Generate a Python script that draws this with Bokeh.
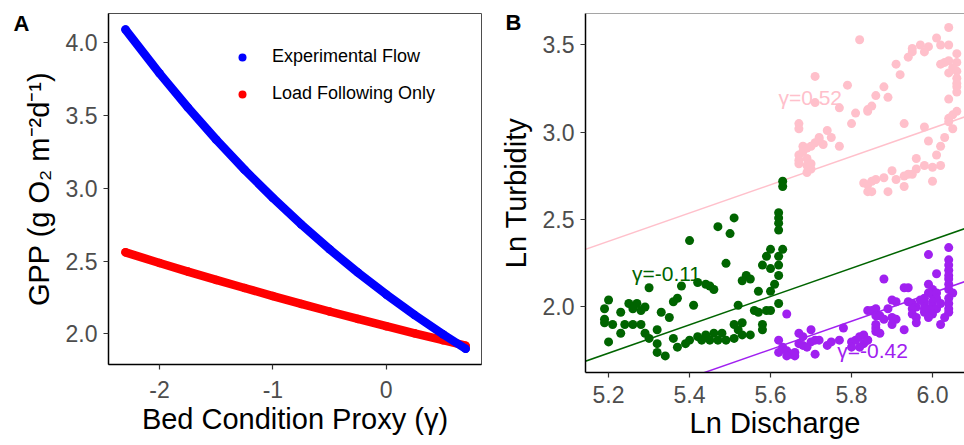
from bokeh.plotting import figure
from bokeh.layouts import row
from bokeh.models import (Range1d, FixedTicker, Legend, LegendItem, Label, Span)
from bokeh.embed import file_html
from bokeh.resources import INLINE

# ---------------- Panel A data ----------------
gamma_vals = [-2.3, -2.0, -1.75, -1.5, -1.25, -1.0, -0.75, -0.5, -0.25, 0.0, 0.25, 0.5, 0.7]
gpp_experimental = [4.090, 3.789, 3.555, 3.334, 3.127, 2.934, 2.752, 2.581, 2.421, 2.271, 2.130, 1.998, 1.898]
gpp_load_following = [2.560, 2.487, 2.428, 2.371, 2.315, 2.260, 2.206, 2.154, 2.103, 2.053, 2.004, 1.957, 1.919]
series_names = ["Experimental Flow", "Load Following Only"]
a_xticks = [-2, -1, 0]
a_xtick_labels = ["-2", "-1", "0"]
a_yticks = [2.0, 2.5, 3.0, 3.5, 4.0]
a_ytick_labels = ["2.0", "2.5", "3.0", "3.5", "4.0"]

# ---------------- Panel B data ----------------
green_x = [5.40, 5.30, 5.38, 5.42, 5.20, 5.19, 5.23, 5.25, 5.27, 5.26, 5.28, 5.29, 5.19, 5.19, 5.21, 5.24,
           5.26, 5.28, 5.23, 5.29, 5.30, 5.32, 5.20, 5.33, 5.35, 5.36, 5.37, 5.41, 5.32, 5.32, 5.34, 5.36,
           5.37, 5.39, 5.40, 5.42, 5.63, 5.63, 5.62, 5.62, 5.62, 5.62, 5.47, 5.51, 5.50, 5.60, 5.63, 5.59,
           5.62, 5.58, 5.60, 5.62, 5.49, 5.62, 5.44, 5.45, 5.46, 5.54, 5.55, 5.53, 5.61, 5.57, 5.60, 5.52,
           5.62, 5.56, 5.57, 5.59, 5.60, 5.53, 5.51, 5.58, 5.58, 5.44, 5.46, 5.45, 5.47, 5.48, 5.49, 5.51,
           5.52, 5.53, 5.55, 5.43]
green_y = [2.38, 2.11, 2.12, 2.14, 2.04, 1.99, 1.97, 2.02, 2.02, 1.99, 1.98, 2.00, 1.93, 1.91, 1.90, 1.90,
           1.90, 1.90, 1.85, 1.85, 1.82, 1.87, 1.80, 1.97, 1.94, 2.03, 2.05, 2.01, 1.79, 1.74, 1.72, 1.82,
           1.77, 1.79, 1.81, 1.83, 2.72, 2.69, 2.54, 2.51, 2.48, 2.44, 2.46, 2.51, 2.42, 2.33, 2.33, 2.29,
           2.29, 2.24, 2.22, 2.24, 2.25, 2.18, 2.13, 2.12, 2.10, 2.18, 2.16, 2.15, 2.13, 2.09, 2.09, 2.01,
           2.02, 1.98, 1.97, 1.98, 1.98, 1.91, 1.90, 1.90, 1.87, 1.84, 1.85, 1.81, 1.81, 1.85, 1.81, 1.82,
           1.87, 1.84, 1.84, 1.81]

purple_x = [5.64, 5.84, 5.70, 5.78, 5.67, 5.68, 5.62, 5.63, 5.62, 5.64, 5.65, 5.66, 5.64, 5.66, 5.67, 5.68,
            5.70, 5.71, 5.69, 5.71, 5.72, 5.74, 5.75, 5.77, 5.80, 5.81, 5.82, 5.83, 5.82, 5.80, 5.84,
            5.99, 6.04, 5.88, 5.93, 5.94, 6.01,
            6.04, 6.04, 6.04, 6.04, 6.04, 6.04, 6.04, 6.05, 6.04, 6.04, 6.04, 6.04, 6.03, 6.02,
            5.99, 6.00, 6.00, 6.01, 6.01, 6.00, 6.00, 6.01, 6.02,
            5.99, 5.98, 5.98, 5.99, 6.00, 5.99,
            5.90, 5.91, 5.94, 5.95, 5.96, 5.97,
            5.95, 5.95, 5.96, 5.98, 5.98, 5.96,
            5.85, 5.86, 5.86, 5.87, 5.89, 5.88, 5.90, 5.91, 5.86, 5.86, 5.86, 5.90, 5.93, 5.87, 5.83, 5.84]
purple_y = [1.96, 1.98, 1.87, 1.88, 1.85, 1.83, 1.81, 1.77, 1.74, 1.75, 1.73, 1.74, 1.72, 1.72, 1.79, 1.78,
            1.80, 1.81, 1.77, 1.73, 1.81, 1.78, 1.80, 1.81, 1.80, 1.81, 1.83, 1.79, 1.77, 1.77, 1.81,
            2.30, 2.34, 2.16, 2.11, 2.11, 2.19,
            2.27, 2.24, 2.21, 2.18, 2.16, 2.13, 2.10, 2.08, 2.05, 2.02, 1.99, 1.97, 1.94, 1.90,
            2.13, 2.10, 2.07, 2.08, 2.05, 2.03, 2.00, 1.99, 2.02,
            2.08, 2.05, 2.02, 1.99, 1.96, 1.94,
            2.04, 2.03, 2.03, 2.02, 2.00, 2.04,
            1.99, 1.96, 1.94, 1.97, 1.99, 1.91,
            1.98, 1.99, 1.95, 1.95, 1.99, 1.93, 1.94, 1.93, 1.90, 1.88, 1.86, 1.90, 1.87, 1.85, 1.84, 1.81]

pink_x = [5.82, 5.71, 5.79, 5.71, 5.77, 5.80, 5.81, 5.84, 5.67, 5.67, 5.74, 5.75, 5.77, 5.72, 5.72, 5.71,
          5.73, 5.68, 5.69, 5.70, 5.68, 5.67, 5.67, 5.69, 5.67, 5.69, 5.70, 5.70, 5.69, 5.83, 5.84, 5.84,
          6.04, 6.01, 6.02, 6.04, 5.99, 5.98, 5.97, 5.95, 5.95, 5.94, 5.91, 5.92,
          6.02, 6.03, 6.04, 6.06, 6.06, 6.05, 6.06, 6.04, 6.06, 6.06, 6.06, 6.06, 6.04,
          5.88, 5.86, 5.89, 5.85, 5.84,
          5.93, 6.06, 6.05, 6.04, 6.04, 6.05, 5.98, 5.99, 6.03, 6.02, 6.01, 6.02, 5.96, 5.98, 5.96, 5.94,
          5.95, 6.00, 6.00, 5.90, 5.91, 5.93, 5.88, 5.86, 5.85, 5.85, 5.89, 5.93]
pink_y = [3.53, 3.32, 3.27, 3.17, 3.14, 3.05, 3.11, 3.13, 3.05, 3.02, 3.01, 2.97, 2.92, 2.97, 2.96, 2.94,
          2.93, 2.92, 2.91, 2.92, 2.89, 2.87, 2.84, 2.85, 2.82, 2.81, 2.82, 2.79, 2.77, 2.71, 2.70, 2.66,
          3.60, 3.54, 3.50, 3.50, 3.49, 3.46, 3.50, 3.48, 3.46, 3.43, 3.39, 3.33,
          3.39, 3.40, 3.41, 3.45, 3.40, 3.37, 3.35, 3.34, 3.31, 3.28, 3.26, 3.23, 3.19,
          3.26, 3.21, 3.20, 3.15, 3.12,
          3.05, 3.12, 3.10, 3.08, 3.06, 3.02, 3.03, 2.95, 2.97, 2.92, 2.87, 2.81, 2.85, 2.81, 2.79, 2.76,
          2.76, 2.80, 2.72, 2.78, 2.73, 2.69, 2.74, 2.73, 2.72, 2.66, 2.66, 2.75]

fit_slope = 0.81
fit_intercepts = [-1.836, -2.476, -2.779]        # pink, green, purple
group_labels = ["\u03b3=0.52", "\u03b3=-0.11", "\u03b3=-0.42"]
label_x = [5.698, 5.343, 5.852]
label_y = [3.20, 2.19, 1.75]
b_xticks = [5.2, 5.4, 5.6, 5.8, 6.0]
b_xtick_labels = ["5.2", "5.4", "5.6", "5.8", "6.0"]
b_yticks = [2.0, 2.5, 3.0, 3.5]
b_ytick_labels = ["2.0", "2.5", "3.0", "3.5"]
panel_tags = ["A", "B"]

FONT = "Liberation Sans"
TICK_COLOR = "#4D4D4D"


def style_axes(p, xticks, xlabels, yticks, ylabels, x_std, x_lab_std):
    p.xaxis.ticker = FixedTicker(ticks=xticks)
    p.yaxis.ticker = FixedTicker(ticks=yticks)
    p.xaxis.major_label_overrides = {t: l for t, l in zip(xticks, xlabels)}
    p.yaxis.major_label_overrides = {t: l for t, l in zip(yticks, ylabels)}
    for ax in (p.xaxis, p.yaxis):
        ax.axis_line_color = "black"
        ax.axis_line_width = 1.5
        ax.major_tick_line_color = "#333333"
        ax.major_tick_line_width = 1.2
        ax.major_tick_out = 5
        ax.major_tick_in = 0
        ax.minor_tick_line_color = None
        ax.major_label_text_font = FONT
        ax.major_label_text_font_size = "23px"
        ax.major_label_text_color = TICK_COLOR
        ax.axis_label_text_font = FONT
        ax.axis_label_text_font_size = "29px"
        ax.axis_label_text_font_style = "normal"
        ax.axis_label_text_color = "black"
    p.xaxis.major_label_standoff = x_std
    p.yaxis.major_label_standoff = 6
    p.xaxis.axis_label_standoff = x_lab_std
    p.yaxis.axis_label_standoff = 8
    p.xgrid.visible = False
    p.ygrid.visible = False


def style_tag(p, text, offset, standoff):
    p.title.text = text
    p.title.align = "left"
    p.title.vertical_align = "bottom"
    p.title.offset = offset
    p.title.standoff = standoff
    p.title.text_font = FONT
    p.title.text_font_size = "22px"
    p.title.text_font_style = "bold"
    p.title.text_color = "black"


# ---------------- Panel A ----------------
pA = figure(width=482, height=437, output_backend="svg", toolbar_location=None,
            x_range=Range1d(-2.45, 0.84), y_range=Range1d(1.79, 4.20),
            min_border_left=108, min_border_right=1, min_border_top=13, min_border_bottom=70)
pA.outline_line_color = "#4D4D4D"
pA.outline_line_width = 1
pA.background_fill_color = "white"
pA.border_fill_color = "white"

pA.line(gamma_vals, gpp_load_following, line_color="#FF0000", line_width=8.5,
        line_cap="round", line_join="round")
red_sc = pA.scatter(gamma_vals, gpp_load_following, marker="circle", size=8.5,
                    fill_color="#FF0000", line_color=None)
pA.line(gamma_vals, gpp_experimental, line_color="#0000FF", line_width=8.5,
        line_cap="round", line_join="round")
blue_sc = pA.scatter(gamma_vals, gpp_experimental, marker="circle", size=8.5,
                     fill_color="#0000FF", line_color=None)

legend = Legend(items=[LegendItem(label=series_names[0], renderers=[blue_sc]),
                       LegendItem(label=series_names[1], renderers=[red_sc])],
                location=(124, 260), glyph_width=20, glyph_height=20, label_height=20,
                label_standoff=20, spacing=16, padding=0, margin=0,
                border_line_color=None, background_fill_alpha=0,
                label_text_font=FONT, label_text_font_size="18px", label_text_color="black")
pA.add_layout(legend)

style_axes(pA, a_xticks, a_xtick_labels, a_yticks, a_ytick_labels, 11, 2)
pA.xaxis.axis_label = "Bed Condition Proxy (\u03b3)"
pA.yaxis.axis_label = "GPP (g O\u2082 m\u207b\u00b2d\u207b\u00b9)"
style_tag(pA, panel_tags[0], -95, -44)

# ---------------- Panel B ----------------
pB = figure(width=482, height=445, output_backend="svg", toolbar_location=None,
            x_range=Range1d(5.143, 6.079), y_range=Range1d(1.625, 3.68),
            min_border_left=103, min_border_right=0, min_border_top=13, min_border_bottom=70)
pB.outline_line_color = None
pB.background_fill_color = "white"
pB.border_fill_color = "white"
pB.add_layout(Span(location=3.68, dimension="width", line_color="#4D4D4D", line_width=1))

colors = ["#FFC0CB", "#006400", "#A020F0"]
xs_fit = [5.0, 6.3]
for a, c in zip(fit_intercepts, colors):
    pB.line(xs_fit, [a + fit_slope * x for x in xs_fit], line_color=c, line_width=1.5)

for t, lx, ly, c in zip(group_labels, label_x, label_y, colors):
    pB.add_layout(Label(x=lx, y=ly, text=t, text_color=c, text_font=FONT, level="underlay",
                        text_font_size="21px", text_align="center", text_baseline="middle"))

pB.scatter(green_x, green_y, marker="circle", size=9, fill_color=colors[1], line_color=None)
pB.scatter(purple_x, purple_y, marker="circle", size=9, fill_color=colors[2], line_color=None)
pB.scatter(pink_x, pink_y, marker="circle", size=9, fill_color=colors[0], line_color=None)

style_axes(pB, b_xticks, b_xtick_labels, b_yticks, b_ytick_labels, 8, 1)
pB.xaxis.axis_label = "Ln Discharge"
pB.yaxis.axis_label = "Ln Turbidity"
style_tag(pB, panel_tags[1], -80, -42)

layout = row(pA, pB)
open("out.html", "w").write(file_html(layout, INLINE))
